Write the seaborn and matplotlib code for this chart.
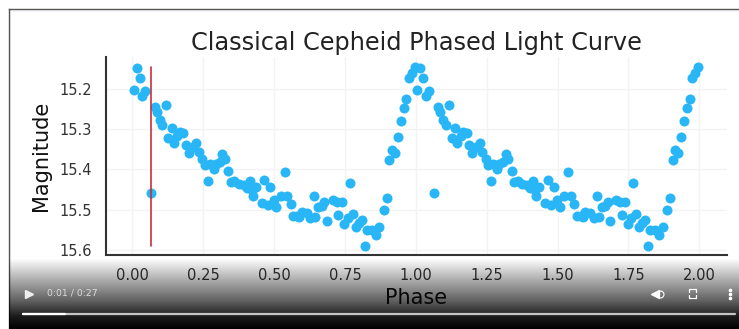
import numpy as np
import pandas as pd
import matplotlib.pyplot as plt
import seaborn as sns
from matplotlib.colors import LinearSegmentedColormap

phase = [0.005, 0.015, 0.026, 0.035, 0.045, 0.065, 0.078, 0.086, 0.117, 0.096, 0.106, 0.138,
         0.127, 0.147, 0.159, 0.168, 0.180, 0.189, 0.198, 0.212, 0.225, 0.235, 0.247, 0.255,
         0.272, 0.288, 0.295, 0.317, 0.327, 0.309, 0.265, 0.338, 0.348, 0.360, 0.376, 0.392,
         0.404, 0.415, 0.425, 0.435, 0.421, 0.466, 0.487, 0.456, 0.478, 0.498, 0.507, 0.524,
         0.538, 0.547, 0.558, 0.568, 0.582, 0.597, 0.589, 0.615, 0.627, 0.645, 0.639, 0.656,
         0.668, 0.677, 0.686, 0.707, 0.721, 0.739, 0.727, 0.768, 0.748, 0.759, 0.778, 0.788,
         0.798, 0.810, 0.819, 0.827, 0.845, 0.859, 0.871, 0.886, 0.897, 0.906, 0.915, 0.926,
         0.936, 0.947, 0.957, 0.967, 0.976, 0.986, 0.996]
mag = [15.201, 15.147, 15.172, 15.218, 15.204, 15.458, 15.244, 15.256, 15.240, 15.278, 15.289, 15.296,
       15.321, 15.333, 15.316, 15.307, 15.309, 15.338, 15.359, 15.343, 15.333, 15.357, 15.374, 15.389,
       15.387, 15.398, 15.386, 15.361, 15.375, 15.382, 15.429, 15.405, 15.431, 15.428, 15.436, 15.438,
       15.446, 15.430, 15.467, 15.443, 15.451, 15.426, 15.443, 15.484, 15.489, 15.476, 15.494, 15.467,
       15.407, 15.466, 15.486, 15.515, 15.517, 15.505, 15.519, 15.509, 15.521, 15.518, 15.467, 15.494,
       15.492, 15.481, 15.528, 15.475, 15.480, 15.482, 15.513, 15.434, 15.535, 15.521, 15.510, 15.544,
       15.533, 15.527, 15.590, 15.552, 15.550, 15.564, 15.544, 15.500, 15.472, 15.377, 15.352, 15.360,
       15.320, 15.280, 15.247, 15.225, 15.172, 15.160, 15.145]

line_phase = [0.0647, 0.0647]
line_mag = [15.144, 15.590]

xticks = [0.0, 0.25, 0.5, 0.75, 1.0, 1.25, 1.5, 1.75, 2.0]
yticks = [15.2, 15.3, 15.4, 15.5, 15.6]

W, H = 739, 329

df = pd.DataFrame({'phase': np.concatenate([phase, np.array(phase) + 1]), 'mag': mag + mag})
line_df = pd.DataFrame({'phase': line_phase, 'mag': line_mag})

sns.set_style('white')
fig = plt.figure(figsize=(W / 100, H / 100), dpi=100, facecolor='white')

# page the video sits on
bg = fig.add_axes([8.5 / W, 0, 1 - 8.5 / W, 1 - 8.5 / H], zorder=0)
bg.set_facecolor('white')
bg.set_xlim(0, 1)
bg.set_ylim(0, 1)
bg.axhspan(0.988, 1, color='#f6f6fc', linewidth=0)
bg.axvspan(0, 0.004, color='#f6f6fc', linewidth=0)
bg.set_xticks([])
bg.set_yticks([])
for s in ['right', 'bottom']:
    bg.spines[s].set_visible(False)
for s in ['left', 'top']:
    bg.spines[s].set_color('#555555')
    bg.spines[s].set_linewidth(1.0)

ax = fig.add_axes([105.5 / W, 1 - 254.5 / H, (727 - 105.5) / W, (254.5 - 57) / H], zorder=1)
ax.set_facecolor('white')
sns.scatterplot(data=df, x='phase', y='mag', color='#29b6f6', s=52, linewidth=0, ax=ax, zorder=3)
sns.lineplot(data=line_df, x='phase', y='mag', color='#c9303c', linewidth=1.2, ax=ax, zorder=4,
             estimator=None, sort=False)

ax.set_xlim(-0.095, 2.098)
ax.set_ylim(15.612, 15.12)
ax.set_xticks(xticks)
ax.set_xticklabels(['%.2f' % t for t in xticks])
ax.set_yticks(yticks)
ax.set_yticklabels(['%.1f' % t for t in yticks])
ax.grid(True, color='#f3f3f3', linewidth=1)
ax.tick_params(length=0, labelsize=10.5, colors='#333333', pad=10)
sns.despine(ax=ax)
ax.spines['left'].set_color('#333333')
ax.spines['bottom'].set_color('#333333')
ax.spines['left'].set_linewidth(1.5)
ax.spines['bottom'].set_linewidth(1.5)
ax.set_xlabel('Phase', fontsize=15, color='#111111', labelpad=3)
ax.set_ylabel('Magnitude', fontsize=15, color='#111111', labelpad=6)
ax.set_title('Classical Cepheid Phased Light Curve', fontsize=17.3, color='#222222', pad=5)

# video player controls drawn over the chart
ov = fig.add_axes([0, 0, 1, 1], zorder=5)
ov.set_xlim(0, W)
ov.set_ylim(H, 0)
ov.axis('off')
shade = LinearSegmentedColormap.from_list('shade', [(0.0, (0, 0, 0, 0)), (0.3, (0, 0, 0, 0.32)),
                                                    (0.6, (0, 0, 0, 0.62)), (0.83, (0, 0, 0, 0.9)),
                                                    (1.0, (0, 0, 0, 1))])
ov.imshow(np.linspace(0, 1, 128)[:, None], cmap=shade, extent=[9, W, 329, 258], aspect='auto',
          vmin=0, vmax=1, zorder=1)
ov.set_xlim(0, W)
ov.set_ylim(H, 0)
ov.plot([29], [293.5], marker='>', color='#eeeeee', markersize=6, linewidth=0, zorder=2)
ov.text(47, 293.5, '0:01 / 0:27', color='#dddddd', fontsize=6.7, va='center', ha='left', zorder=2)
ov.plot([23, 735], [313.5, 313.5], color='#c4c4c4', linewidth=1.6, zorder=2)
ov.plot([23, 65], [313.5, 313.5], color='white', linewidth=1.6, zorder=2)
# volume
ov.plot([655], [293.5], marker='<', color='white', markersize=6, linewidth=0, zorder=2)
ov.plot([660], [293.5], marker='o', markerfacecolor='none', markeredgecolor='white', markersize=5,
        markeredgewidth=0.8, linewidth=0, zorder=2)
# fullscreen corners
cx = [689, 689, 692, np.nan, 693, 696, 696, np.nan, 696, 696, 693, np.nan, 692, 689, 689]
cy = [292, 289, 289, np.nan, 289, 289, 292, np.nan, 295, 298, 298, np.nan, 298, 298, 295]
ov.plot(cx, cy, color='white', linewidth=0.9, zorder=2)
ov.plot([730, 730, 730], [289.5, 293.5, 297.5], marker='o', color='white', markersize=1.6,
        linewidth=0, zorder=2)

fig.savefig('out.png', dpi=100)
